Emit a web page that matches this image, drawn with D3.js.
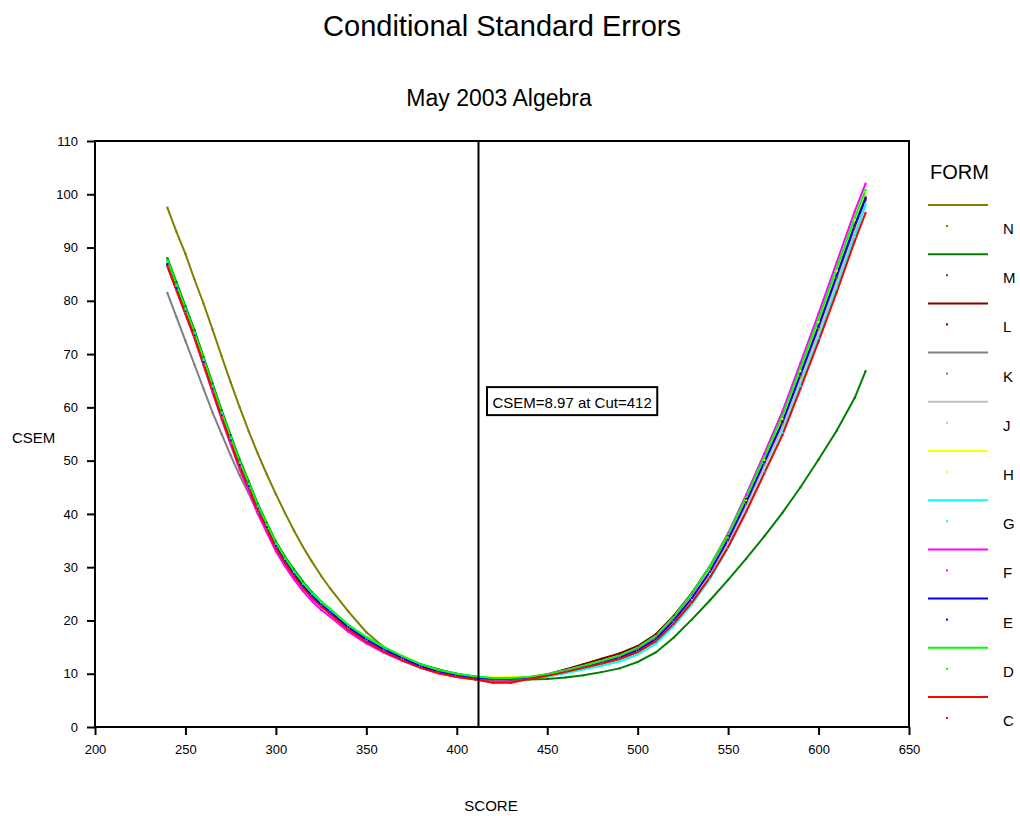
<!DOCTYPE html>
<html><head><meta charset="utf-8">
<script src="https://cdn.jsdelivr.net/npm/d3@7"></script>
<style>
body{margin:0;background:#fff}
svg{display:block}
text{font-family:"Liberation Sans",Arial,Helvetica,sans-serif;fill:#000}
</style>
</head><body>
<svg id="chart" width="1020" height="816"></svg>
<script>
// ---------------- data ----------------
const scores = [240,245,250,255,260,265,270,275,280,285,290,295,300,305,310,315,320,325,330,340,350,360,370,380,390,400,410,420,430,440,450,460,470,480,490,500,510,520,530,540,550,560,570,580,590,600,610,620,626];

const formN = [97.5,93,88.8,84,79.5,74.6,69.6,64.7,60.0,55.5,51.3,47.4,43.7,40.2,36.9,33.8,31.0,28.4,26.0,21.7,17.8,14.9,13.0,11.4,10.3,9.5,9.0,8.5,8.5,9.0,9.5,10.2,11.0,11.8,12.7,14.0,16.1,19.6,23.8,28.8,34.8,41.8,49.3,56.8,65.8,74.8,84.3,93.8,99.3];
const formM = [88,83.5,79,74.5,69.5,64.5,59.5,54.8,50.2,46.1,41.9,38.3,34.8,32,29.6,27.3,25.3,23.5,22.0,19.0,16.6,14.7,13.2,11.8,10.8,10.0,9.5,9.1,8.9,8.9,9.0,9.3,9.7,10.3,11,12.2,14,16.8,20.2,23.8,27.6,31.6,35.8,40.2,45,50.2,55.6,61.8,66.8];
const formL = [86.8,82.3,77.8,73.3,68.3,63.3,58.3,53.6,49,45,40.8,37.3,33.8,31.0,28.5,26.3,24.4,22.8,21.4,18.5,16.2,14.3,12.7,11.3,10.3,9.6,9.1,8.9,8.9,9.3,9.9,10.8,11.8,12.8,13.8,15.2,17.4,20.9,25.2,30.2,36,42.8,50,57.5,66.2,75.2,84.5,94,99];
const formK = [81.5,77,72.5,68,63.5,59,55,51,47.2,43.8,40.2,37,33.8,31.1,28.6,26.4,24.5,22.9,21.5,18.6,16.3,14.4,12.8,11.4,10.4,9.7,9.2,9.0,9.0,9.2,9.8,10.5,11.3,12.1,13.0,14.4,16.5,20.0,24.2,29.2,35.2,42.2,49.6,57.2,66.2,75.2,84.6,94.2,99.6];
const formJ = [86.5,82,77.5,73,68,63,58,53.3,48.8,44.8,40.7,37.3,33.9,31.1,28.6,26.4,24.5,22.9,21.5,18.6,16.3,14.4,12.8,11.4,10.4,9.7,9.2,9.0,9.1,9.4,9.9,10.6,11.4,12.2,13.1,14.4,16.5,19.9,24.0,28.8,34.6,41.4,48.8,56.2,65.0,74.0,83.4,92.8,98.2];
const formH = [86.8,82.3,77.9,73.4,68.4,63.4,58.4,53.7,49.1,45.1,40.9,37.4,33.9,31.1,28.6,26.4,24.5,22.9,21.5,18.6,16.3,14.4,12.8,11.3,10.3,9.6,9.2,9.3,9.4,9.4,9.7,10.4,11.2,12.0,12.9,14.3,16.4,19.9,24.2,29.3,35.4,42.5,50.1,57.8,66.8,76,85.6,95.2,100.5];
const formG = [87.3,82.8,78.3,73.8,68.8,63.8,58.8,54.1,49.5,45.5,41.3,37.8,34.3,31.5,29.0,26.8,24.9,23.3,21.9,19.0,16.7,14.8,13.1,11.6,10.6,9.9,9.4,9.1,9.1,9.2,9.5,10.1,10.8,11.5,12.3,13.6,15.6,19.0,23.0,27.8,33.6,40.4,47.8,55.2,64,73,82.4,92,98];
const formF = [86.6,82.1,77.5,73.0,67.9,62.8,57.8,53.0,48.3,44.2,40.0,36.5,33.0,30.2,27.7,25.5,23.6,22.0,20.7,17.9,15.7,13.9,12.4,11.1,10.1,9.4,9.0,8.9,8.9,9.2,9.8,10.6,11.4,12.3,13.3,14.8,17.0,20.6,25.0,30.2,36.4,43.6,51.3,59.2,68.3,77.6,87.2,96.8,102];
const formE = [86.9,82.4,78,73.5,68.5,63.5,58.5,53.8,49.2,45.2,41,37.5,34,31.2,28.7,26.5,24.6,23.0,21.6,18.7,16.4,14.5,12.9,11.4,10.4,9.7,9.2,9.1,9.1,9.3,9.8,10.5,11.3,12.1,13.0,14.4,16.5,20.0,24.2,29.2,35.2,42.2,49.7,57.2,66.2,75.2,84.7,94.2,99.3];
const formD = [87.6,83.1,78.6,74.1,69.1,64.1,59.1,54.4,49.8,45.8,41.6,38.1,34.6,31.8,29.3,27.1,25.2,23.6,22.2,19.2,16.9,15.0,13.3,11.8,10.7,10.0,9.5,9.2,9.2,9.4,9.9,10.6,11.5,12.4,13.4,14.9,17.1,20.7,25.1,30.2,36.2,43.2,50.7,58.4,67.4,76.6,86.1,95.6,100.8];
const formC = [86.5,82,77.6,73.1,68.1,63.1,58.1,53.4,48.8,44.8,40.6,37.1,33.6,30.8,28.3,26.1,24.2,22.6,21.2,18.3,16.0,14.1,12.5,11.1,10.1,9.4,8.9,8.3,8.3,9.0,9.6,10.3,11.1,11.9,12.8,14.1,16.1,19.4,23.4,28.1,33.8,40.4,47.6,54.8,63.5,72.4,81.6,91.2,96.5];

const formNames = ["N","M","L","K","J","H","G","F","E","D","C"];
const formColors = ["#808000","#008000","#800000","#808080","#C0C0C0","#FFFF00","#00FFFF","#FF00FF","#0000FF","#00FF00","#FF0000"];
const formValues = [formN,formM,formL,formK,formJ,formH,formG,formF,formE,formD,formC];

const xTicks = [200,250,300,350,400,450,500,550,600,650];
const yTicks = [0,10,20,30,40,50,60,70,80,90,100,110];

const cutScore = 412;
const cutText = "CSEM=8.97 at Cut=412";
const cutLabelAt = [416.7, 63.8]; // score, csem of box top-left

const titleText = "Conditional Standard Errors";
const subtitleText = "May 2003 Algebra";
const xTitle = "SCORE";
const yTitle = "CSEM";
const legendTitle = "FORM";

// ---------------- drawing ----------------
const svg = d3.select("#chart");
svg.append("rect").attr("width",1020).attr("height",816).attr("fill","#fff");

const x = d3.scaleLinear().domain([200,650]).range([95,909]);
const y = d3.scaleLinear().domain([0,110]).range([727,141]);

svg.append("text").attr("x",502).attr("y",36).attr("text-anchor","middle")
  .style("font-size","29px").text(titleText);
svg.append("text").attr("x",499).attr("y",106).attr("text-anchor","middle")
  .style("font-size","23px").text(subtitleText);

// axes
const yAxis = d3.axisLeft(y).tickValues(yTicks).tickSize(8).tickPadding(9).tickFormat(d3.format("d"));
const xAxis = d3.axisBottom(x).tickValues(xTicks).tickSize(8).tickPadding(10).tickFormat(d3.format("d"));

const gy = svg.append("g").attr("transform","translate(95,0)").call(yAxis);
const gx = svg.append("g").attr("transform","translate(0,727)").call(xAxis);
[gx,gy].forEach(g=>{
  g.select(".domain").remove();
  g.selectAll(".tick line").attr("stroke","#000").attr("stroke-width",2);
  g.selectAll(".tick text").style("font-size","13px").style("font-family","'Liberation Sans',Arial,sans-serif").attr("fill","#000");
});

// clip
svg.append("clipPath").attr("id","plotclip").append("rect")
  .attr("x",x(200)).attr("y",y(110)).attr("width",x(650)-x(200)).attr("height",y(0)-y(110));

const plot = svg.append("g").attr("clip-path","url(#plotclip)");
const line = d3.line().x(d=>x(d[0])).y(d=>y(d[1]));

formValues.forEach((vals,i)=>{
  const pts = scores.map((s,j)=>[s,vals[j]]);
  plot.append("path").datum(pts).attr("d",line)
    .attr("fill","none").attr("stroke",formColors[i]).attr("stroke-width",2)
    .attr("stroke-linejoin","miter");
});
formValues.forEach((vals,i)=>{
  const pts = scores.map((s,j)=>[s,vals[j]]);
  plot.selectAll(null).data(pts).enter().append("rect")
    .attr("x",d=>x(d[0])-1).attr("y",d=>y(d[1])-1).attr("width",2).attr("height",2)
    .attr("fill",formColors[i]);
});

// cut line
svg.append("line").attr("x1",x(cutScore)).attr("x2",x(cutScore)).attr("y1",y(110)).attr("y2",y(0))
  .attr("stroke","#000").attr("stroke-width",2);

// frame
svg.append("rect").attr("x",x(200)).attr("y",y(110)).attr("width",x(650)-x(200)).attr("height",y(0)-y(110))
  .attr("fill","none").attr("stroke","#000").attr("stroke-width",2);

// annotation box
const bx = x(cutLabelAt[0]), by = y(cutLabelAt[1]);
const ann = svg.append("g");
const annText = ann.append("text").attr("x",bx+5.5).attr("y",by+20.5).style("font-size","15px").text(cutText);
const tw = annText.node().getComputedTextLength();
ann.insert("rect","text").attr("x",bx).attr("y",by).attr("width",tw+11).attr("height",28)
  .attr("fill","#fff").attr("stroke","#000").attr("stroke-width",2);

// axis titles
svg.append("text").attr("x",491).attr("y",811).attr("text-anchor","middle").style("font-size","15px").text(xTitle);
svg.append("text").attr("x",12).attr("y",443).style("font-size","15px").text(yTitle);

// legend
svg.append("text").attr("x",930).attr("y",179).style("font-size","20px").text(legendTitle);
const lg = svg.append("g");
formNames.forEach((nm,i)=>{
  const ly = 205 + 49.2*i;
  lg.append("line").attr("x1",928).attr("x2",988).attr("y1",ly).attr("y2",ly)
    .attr("stroke",formColors[i]).attr("stroke-width",2);
  lg.append("rect").attr("x",946).attr("y",ly+20).attr("width",2).attr("height",2).attr("fill",formColors[i]);
  lg.append("text").attr("x",1003).attr("y",ly+29).style("font-size","15px").text(nm);
});
</script>
</body></html>
